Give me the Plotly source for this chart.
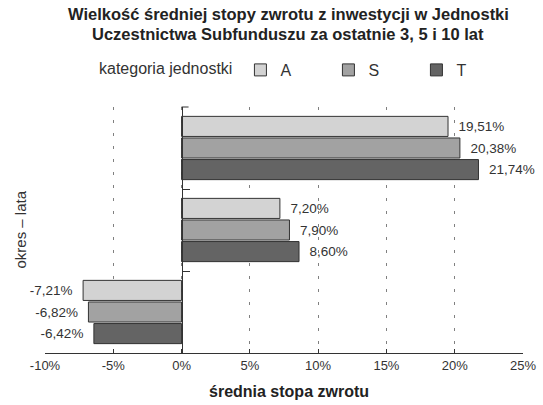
import plotly.graph_objects as go

categories = ["10", "5", "3"]
series_names = ["A", "S", "T"]
values_A = [19.51, 7.20, -7.21]
values_S = [20.38, 7.90, -6.82]
values_T = [21.74, 8.60, -6.42]
colors = ["#d3d3d3", "#a2a2a2", "#646464"]
tick_vals = [-10, -5, 0, 5, 10, 15, 20, 25]

title_lines = ["Wielkość średniej stopy zwrotu z inwestycji w Jednostki",
               "Uczestnictwa Subfunduszu za ostatnie 3, 5 i 10 lat"]
legend_title = "kategoria jednostki"
x_title = "średnia stopa zwrotu"
y_title = "okres – lata"

FONT = "Liberation Sans, Arial, sans-serif"
TXT = "#333333"
NB = "\u00a0"

# plot-area geometry (pixels) used to convert text positions to paper coords
W, H = 543, 405
ML, MR, MT, MB = 45, 20, 107, 52
PW, PH = W - ML - MR, H - MT - MB


def px(xp):
    return (xp - ML) / PW


def py(yp):
    return (H - MB - yp) / PH


def fmt(v):
    s = f"{v:.2f}".replace(".", ",") + "%"
    return (NB + NB + s) if v >= 0 else (s + NB + NB)


fig = go.Figure()
for name, vals, col in zip(series_names, [values_A, values_S, values_T], colors):
    fig.add_trace(go.Bar(
        name=name, y=categories, x=vals, orientation="h",
        marker=dict(color=col, line=dict(color="#333333", width=1)),
        text=[fmt(v) for v in vals], textposition="outside",
        textfont=dict(family=FONT, size=13.5, color=TXT),
        constraintext="none", cliponaxis=False,
    ))

annotations = []
# category labels next to the zero axis, on the side opposite the bars
for i, c in enumerate(categories):
    group_sum = values_A[i] + values_S[i] + values_T[i]
    pos = group_sum >= 0
    annotations.append(dict(
        x=0, xref="x", y=c, yref="y", text=c, showarrow=False,
        xanchor="right" if pos else "left", xshift=-17 if pos else 18,
        font=dict(family=FONT, size=14, color=TXT)))
# titles
annotations.append(dict(x=px(288), xref="paper", y=py(14), yref="paper",
                        text="<b>" + title_lines[0] + "</b>", showarrow=False,
                        xanchor="center", yanchor="middle",
                        font=dict(family=FONT, size=16.5, color="#222222")))
annotations.append(dict(x=px(288), xref="paper", y=py(34), yref="paper",
                        text="<b>" + title_lines[1] + "</b>", showarrow=False,
                        xanchor="center", yanchor="middle",
                        font=dict(family=FONT, size=16.5, color="#222222")))
annotations.append(dict(x=px(289), xref="paper", y=py(391), yref="paper",
                        text="<b>" + x_title + "</b>", showarrow=False,
                        xanchor="center", yanchor="middle",
                        font=dict(family=FONT, size=16, color="#222222")))
annotations.append(dict(x=px(19.5), xref="paper", y=py(230), yref="paper",
                        text=y_title, textangle=-90, showarrow=False,
                        xanchor="center", yanchor="middle",
                        font=dict(family=FONT, size=15, color=TXT)))

# small tick at the top end of the category axis (boundary above "10")
shapes = [dict(type="line", xref="x", xsizemode="pixel", xanchor=0, x0=0, x1=7,
               yref="paper", y0=1, y1=1, line=dict(color="#333333", width=1))]

fig.update_layout(
    template="none",
    width=W, height=H,
    margin=dict(l=ML, r=MR, t=MT, b=MB, autoexpand=False),
    paper_bgcolor="white", plot_bgcolor="white",
    barmode="group", bargap=0.21, bargroupgap=0.07,
    font=dict(family=FONT, size=13, color=TXT),
    legend=dict(orientation="h", xref="container", x=97 / W, xanchor="left",
                yref="container", y=1 - 70 / H, yanchor="middle",
                title=dict(text=legend_title, side="left",
                           font=dict(family=FONT, size=16, color=TXT)),
                font=dict(family=FONT, size=16, color=TXT),
                bgcolor="rgba(0,0,0,0)", borderwidth=0,
                entrywidth=43, entrywidthmode="pixels", traceorder="normal"),
    xaxis=dict(range=[-10, 25], tickvals=tick_vals,
               ticktext=[f"{v}%" for v in tick_vals], automargin=False,
               showgrid=True, gridcolor="#808080", gridwidth=1, griddash="3px,10px",
               zeroline=False, showline=True, linecolor="#333333", linewidth=1,
               ticks="inside", ticklen=4, tickcolor="#333333",
               tickfont=dict(family=FONT, size=13, color=TXT)),
    yaxis=dict(type="category", categoryorder="array", categoryarray=categories,
               range=[2.5, -0.5], anchor="free", position=px(182), automargin=False,
               showline=True, linecolor="#333333", linewidth=1,
               ticks="inside", tickson="boundaries", ticklen=7, tickcolor="#333333",
               showticklabels=False, showgrid=False, zeroline=False),
    annotations=annotations,
    shapes=shapes,
)

fig.write_html("out.html", config={"displayModeBar": False},
               post_script="document.body.style.margin='0';document.body.style.overflow='hidden';")
